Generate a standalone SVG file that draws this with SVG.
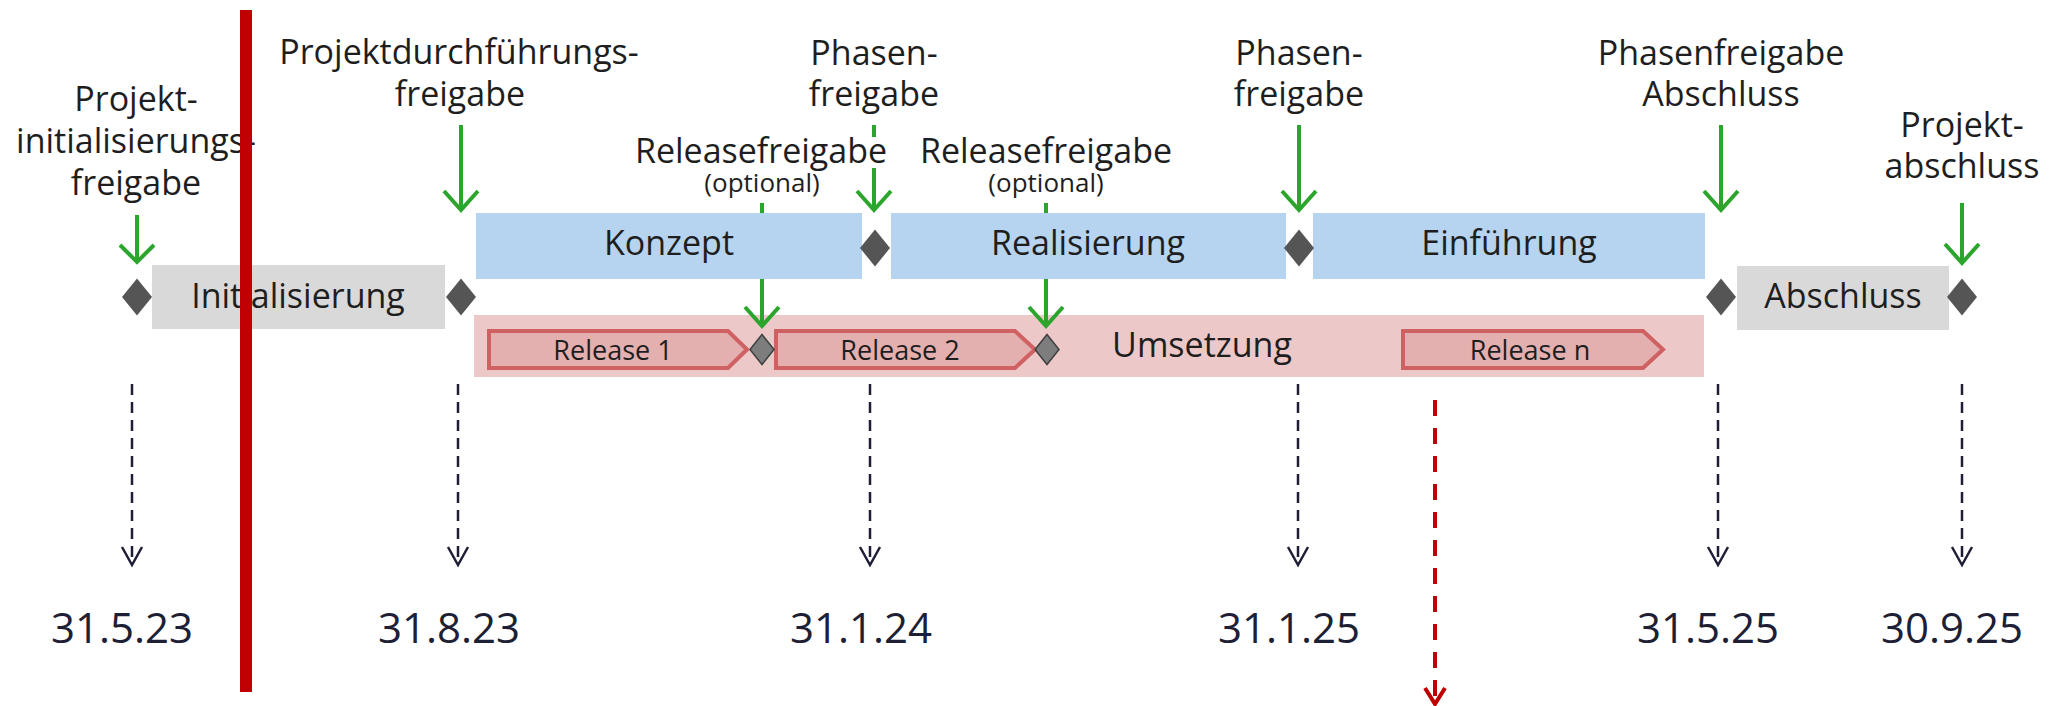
<svg xmlns="http://www.w3.org/2000/svg" width="2064" height="706" viewBox="0 0 2064 706">
<style>
.lbl{font-family:"Open Sans","Noto Sans","Liberation Sans",sans-serif;font-size:34px;fill:#1e1e1e;text-anchor:middle}
.opt{font-family:"Open Sans","Noto Sans","Liberation Sans",sans-serif;font-size:26px;fill:#1e1e1e;text-anchor:middle}
.rel{font-family:"Open Sans","Noto Sans","Liberation Sans",sans-serif;font-size:27px;fill:#1e1e1e;text-anchor:middle}
.date{font-family:"Open Sans","Noto Sans","Liberation Sans",sans-serif;font-size:42px;fill:#1e1e34;text-anchor:middle}
.gray{fill:#d9d9d9}
.blue{fill:#b6d4ef}
.band{fill:#ecc8c8}
.chev{fill:#e3afaf;stroke:#cf6163;stroke-width:4;stroke-linejoin:miter}
.dia{fill:#555555}
.sdia{fill:#7d7d7d;stroke:#3f3f3f;stroke-width:1.5}
.garr{fill:none;stroke:#2ca52c;stroke-width:4}
.darr{fill:none;stroke:#1e1e36;stroke-width:2.5;stroke-dasharray:11 7}
.dhead{fill:none;stroke:#1e1e36;stroke-width:2.5}
.rarr{fill:none;stroke:#c00000;stroke-width:4;stroke-dasharray:16 12}
.rhead{fill:none;stroke:#c00000;stroke-width:4}
</style>
<rect width="2064" height="706" fill="#ffffff"/>

<g id="umsetzung">
<rect class="band" x="474" y="315" width="1230" height="62"/>
<text class="lbl" x="1202" y="357">Umsetzung</text>
</g>

<g id="connectors">
<!-- green approval arrows -->
<path class="garr" d="M137 215V262M120 245L137 262L154 245"/>
<path class="garr" d="M461 125V210M444 191L461 210L478 191"/>
<path class="garr" d="M874 125V210M857 191L874 210L891 191"/>
<path class="garr" d="M1299 125V210M1282 191L1299 210L1316 191"/>
<path class="garr" d="M1721 125V210M1704 191L1721 210L1738 191"/>
<path class="garr" d="M1962 203V263M1945 244L1962 263L1979 244"/>
<path class="garr" d="M762 203V326M745 307L762 326L779 307"/>
<path class="garr" d="M1046 203V326M1029 307L1046 326L1063 307"/>
<!-- dashed date arrows -->
<path class="darr" d="M132 384V563"/><path class="dhead" d="M122 547L132 565L142 547"/>
<path class="darr" d="M458 384V563"/><path class="dhead" d="M448 547L458 565L468 547"/>
<path class="darr" d="M870 384V563"/><path class="dhead" d="M860 547L870 565L880 547"/>
<path class="darr" d="M1298 384V563"/><path class="dhead" d="M1288 547L1298 565L1308 547"/>
<path class="darr" d="M1718 384V563"/><path class="dhead" d="M1708 547L1718 565L1728 547"/>
<path class="darr" d="M1962 384V563"/><path class="dhead" d="M1952 547L1962 565L1972 547"/>
<!-- today marker -->
<path class="rarr" d="M1435 400V702"/><path class="rhead" d="M1425 688L1435 704L1445 688"/>
</g>

<g id="initialisierung">
<rect class="gray" x="152" y="265" width="293" height="64"/>
<text class="lbl" x="298" y="308">Initialisierung</text>
</g>
<g id="konzept">
<rect class="blue" x="476" y="213" width="386" height="66"/>
<text class="lbl" x="669" y="255">Konzept</text>
</g>
<g id="realisierung">
<rect class="blue" x="891" y="213" width="395" height="66"/>
<text class="lbl" x="1088" y="255">Realisierung</text>
</g>
<g id="einfuehrung">
<rect class="blue" x="1313" y="213" width="392" height="66"/>
<text class="lbl" x="1509" y="255">Einführung</text>
</g>
<g id="abschluss">
<rect class="gray" x="1737" y="266" width="212" height="64"/>
<text class="lbl" x="1843" y="308">Abschluss</text>
</g>

<g id="release1">
<polygon class="chev" points="489,331 728,331 747,349.5 728,368 489,368"/>
<text class="rel" x="613" y="360">Release 1</text>
</g>
<g id="release2">
<polygon class="chev" points="776,331 1015,331 1035,349.5 1015,368 776,368"/>
<text class="rel" x="900" y="360">Release 2</text>
</g>
<g id="releasen">
<polygon class="chev" points="1403,331 1643,331 1663,349.5 1643,368 1403,368"/>
<text class="rel" x="1530" y="360">Release n</text>
</g>

<g id="milestones">
<polygon class="dia" points="137,278.5 152,297 137,315.5 122,297"/>
<polygon class="dia" points="461,278.5 476,297 461,315.5 446,297"/>
<polygon class="dia" points="875,229.5 890,248 875,266.5 860,248"/>
<polygon class="dia" points="1299,229.5 1314,248 1299,266.5 1284,248"/>
<polygon class="dia" points="1721,278.5 1736,297 1721,315.5 1706,297"/>
<polygon class="dia" points="1962,278.5 1977,297 1962,315.5 1947,297"/>
<polygon class="sdia" points="762,334.5 774,349.5 762,364.5 750,349.5"/>
<polygon class="sdia" points="1047,334.5 1059,349.5 1047,364.5 1035,349.5"/>
</g>

<g id="label-projektinit">
<text class="lbl" x="136" y="111">Projekt-</text>
<text class="lbl" x="136" y="153">initialisierungs-</text>
<text class="lbl" x="136" y="195">freigabe</text>
</g>
<g id="label-durchfuehrung">
<text class="lbl" x="459" y="64">Projektdurchführungs-</text>
<text class="lbl" x="460" y="106">freigabe</text>
</g>
<g id="label-phasen1">
<text class="lbl" x="874" y="65">Phasen-</text>
<text class="lbl" x="874" y="106">freigabe</text>
</g>
<g id="label-release1">
<rect x="636" y="137" width="252" height="31" fill="#ffffff"/>
<text class="lbl" x="761" y="163">Releasefreigabe</text>
<text class="opt" x="762" y="192">(optional)</text>
</g>
<g id="label-release2">
<rect x="920" y="137" width="252" height="31" fill="#ffffff"/>
<text class="lbl" x="1046" y="163">Releasefreigabe</text>
<text class="opt" x="1046" y="192">(optional)</text>
</g>
<g id="label-phasen2">
<text class="lbl" x="1299" y="65">Phasen-</text>
<text class="lbl" x="1299" y="106">freigabe</text>
</g>
<g id="label-phasenabschluss">
<text class="lbl" x="1721" y="65">Phasenfreigabe</text>
<text class="lbl" x="1721" y="106">Abschluss</text>
</g>
<g id="label-projektabschluss">
<text class="lbl" x="1962" y="137">Projekt-</text>
<text class="lbl" x="1962" y="178">abschluss</text>
</g>

<g id="dates">
<text class="date" x="122" y="643">31.5.23</text>
<text class="date" x="449" y="643">31.8.23</text>
<text class="date" x="861" y="643">31.1.24</text>
<text class="date" x="1289" y="643">31.1.25</text>
<text class="date" x="1708" y="643">31.5.25</text>
<text class="date" x="1952" y="643">30.9.25</text>
</g>

<g id="today-bar">
<rect x="240" y="10" width="12" height="682" fill="#c00000"/>
</g>
</svg>
